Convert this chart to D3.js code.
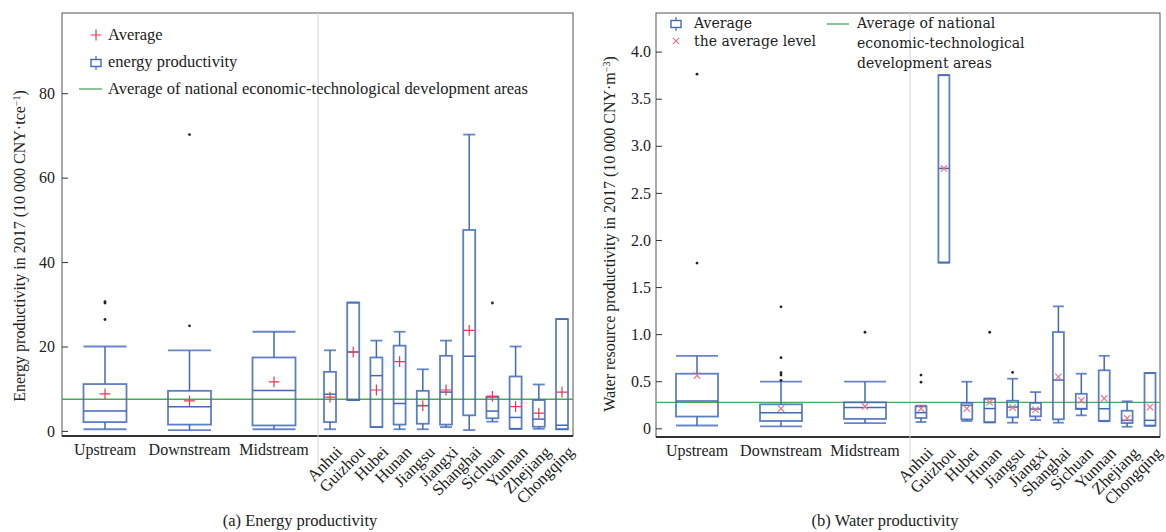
<!DOCTYPE html>
<html>
<head>
<meta charset="utf-8">
<script src="https://cdn.jsdelivr.net/npm/d3@7"></script>
<style>
  body { margin: 0; background: #fff; }
  text { font-family: "Liberation Serif", serif; fill: #222; }
  .legend-b text { font-family: "DejaVu Serif", serif; }
</style>
</head>
<body>
<script>
const groups = ['Upstream', 'Downstream', 'Midstream'];
const provinces = ['Anhui', 'Guizhou', 'Hubei', 'Hunan', 'Jiangsu', 'Jiangxi',
  'Shanghai', 'Sichuan', 'Yunnan', 'Zhejiang', 'Chongqing'];

// [lower whisker, q1, median, q3, upper whisker], groups first then provinces
const energyStats = [
  [0.4, 2.1, 4.7, 11.1, 20.0],
  [0.2, 1.5, 5.75, 9.5, 19.1],
  [0.4, 1.3, 9.6, 17.4, 23.5],
  [0.4, 2.1, 8.7, 14.0, 19.1],
  [7.3, 7.3, 18.7, 30.4, 30.4],
  [0.9, 0.9, 13.1, 17.4, 21.4],
  [0.4, 1.5, 6.5, 20.2, 23.5],
  [0.4, 1.7, 6.0, 9.5, 14.6],
  [0.9, 1.5, 9.2, 17.8, 21.4],
  [0.2, 3.7, 17.7, 47.6, 70.2],
  [2.2, 3.0, 4.7, 8.1, 8.1],
  [0.5, 0.5, 3.2, 12.9, 20.0],
  [0.5, 1.0, 2.8, 7.3, 11.0],
  [0.4, 0.4, 1.35, 26.5, 26.5],
];
const energyMeans = [8.8, 7.1, 11.6, 8.0, 18.7, 9.7, 16.4, 6.0, 9.7, 23.8, 8.2, 5.75, 4.2, 9.2];
const energyOutliers = [
  ['Upstream', 30.3], ['Upstream', 30.6], ['Upstream', 26.4],
  ['Downstream', 70.2], ['Downstream', 24.9],
  ['Sichuan', 30.3],
];
const energyNational = 7.5;
const energyTicks = [0, 20, 40, 60, 80];

const waterStats = [
  [0.03, 0.125, 0.29, 0.58, 0.77],
  [0.02, 0.078, 0.166, 0.255, 0.495],
  [0.056, 0.10, 0.22, 0.276, 0.495],
  [0.067, 0.11, 0.166, 0.233, 0.24],
  [1.76, 1.76, 2.76, 3.75, 3.75],
  [0.078, 0.096, 0.245, 0.27, 0.495],
  [0.064, 0.064, 0.21, 0.315, 0.315],
  [0.06, 0.117, 0.226, 0.293, 0.527],
  [0.088, 0.127, 0.205, 0.27, 0.385],
  [0.06, 0.096, 0.513, 1.022, 1.295],
  [0.138, 0.205, 0.21, 0.367, 0.58],
  [0.075, 0.08, 0.208, 0.616, 0.77],
  [0.017, 0.056, 0.085, 0.187, 0.287],
  [0.028, 0.028, 0.085, 0.587, 0.587],
];
const waterMeans = [0.56, 0.21, 0.233, 0.21, 2.76, 0.21, 0.276, 0.22, 0.198, 0.548, 0.297, 0.318, 0.106, 0.226];
const waterOutliers = [
  ['Upstream', 3.76], ['Upstream', 1.755],
  ['Downstream', 1.29], ['Downstream', 0.75], ['Downstream', 0.59],
  ['Downstream', 0.565], ['Downstream', 0.51],
  ['Midstream', 1.02],
  ['Anhui', 0.566], ['Anhui', 0.49],
  ['Hunan', 1.02],
  ['Jiangsu', 0.594],
];
const waterNational = 0.276;
const waterTicks = [0, 0.5, 1.0, 1.5, 2.0, 2.5, 3.0, 3.5, 4.0];

const BLUE = '#4169b8';
const GREEN = '#4aa85a';
const RED = '#e5394f';
const PINK = '#ee7584';
const SERIF = '"Liberation Serif", serif';

const svg = d3.select('body').append('svg')
  .attr('width', 1166)
  .attr('height', 532);

function boxIcon(g, x, y) {
  g.append('line').attr('x1', x).attr('x2', x).attr('y1', y - 7).attr('y2', y + 7)
    .attr('stroke', BLUE).attr('stroke-width', 1.2);
  g.append('rect').attr('x', x - 5).attr('y', y - 3.5).attr('width', 10).attr('height', 7)
    .attr('fill', '#fff').attr('stroke', BLUE).attr('stroke-width', 1.4);
}

function drawPanel(p) {
  const g = svg.append('g');
  const cats = groups.concat(provinces);

  const y = d3.scaleLinear().domain(p.yDomain).range([p.bottom, p.top]);
  const gx = d3.scalePoint().domain(groups).range(p.groupRange);
  const px = d3.scalePoint().domain(provinces).range(p.provRange);
  const xOf = (c) => (groups.includes(c) ? gx(c) : px(c));
  const wOf = (c) => (groups.includes(c) ? p.groupWidth : p.provWidth);

  // frame
  g.append('rect')
    .attr('x', p.x0).attr('y', p.top)
    .attr('width', p.x1 - p.x0).attr('height', p.bottom - p.top)
    .attr('fill', 'none').attr('stroke', '#555').attr('stroke-width', 1);
  g.append('line')
    .attr('x1', p.x0).attr('x2', p.x1).attr('y1', p.bottom).attr('y2', p.bottom)
    .attr('stroke', '#333').attr('stroke-width', 2);

  // separator between basin groups and provinces
  g.append('line')
    .attr('x1', p.x0 + p.sep).attr('x2', p.x0 + p.sep)
    .attr('y1', p.top).attr('y2', p.bottom + 30)
    .attr('stroke', '#d4d4d4').attr('stroke-width', 1);

  // y axis
  const yAxis = g.append('g')
    .attr('transform', `translate(${p.x0},0)`)
    .call(d3.axisLeft(y).tickValues(p.ticks).tickSizeInner(-6).tickSizeOuter(0)
      .tickPadding(p.tickPad).tickFormat(p.fmt))
    .attr('font-family', SERIF)
    .attr('font-size', 16);
  yAxis.select('.domain').remove();
  yAxis.selectAll('line').attr('stroke', '#333');
  yAxis.selectAll('text').attr('fill', '#333');

  // national average line
  g.append('line')
    .attr('x1', p.x0).attr('x2', p.x1)
    .attr('y1', y(p.national)).attr('y2', y(p.national))
    .attr('stroke', GREEN).attr('stroke-width', 1.3);

  // boxes
  const box = g.append('g').selectAll('g')
    .data(cats.map((c, i) => ({ c, s: p.stats[i], m: p.means[i] })))
    .join('g')
    .attr('transform', (d) => `translate(${xOf(d.c)},0)`);

  box.append('line')
    .attr('y1', (d) => y(d.s[4])).attr('y2', (d) => y(d.s[3]))
    .attr('stroke', BLUE).attr('stroke-width', 1.5);
  box.append('line')
    .attr('y1', (d) => y(d.s[1])).attr('y2', (d) => y(d.s[0]))
    .attr('stroke', BLUE).attr('stroke-width', 1.5);
  box.append('line')
    .attr('x1', (d) => -wOf(d.c) / 2).attr('x2', (d) => wOf(d.c) / 2)
    .attr('y1', (d) => y(d.s[4])).attr('y2', (d) => y(d.s[4]))
    .attr('stroke', BLUE).attr('stroke-width', 1.8).attr('stroke-opacity', 0.8);
  box.append('line')
    .attr('x1', (d) => -wOf(d.c) / 2).attr('x2', (d) => wOf(d.c) / 2)
    .attr('y1', (d) => y(d.s[0])).attr('y2', (d) => y(d.s[0]))
    .attr('stroke', BLUE).attr('stroke-width', 1.8).attr('stroke-opacity', 0.8);
  box.append('rect')
    .attr('x', (d) => -wOf(d.c) / 2).attr('width', (d) => wOf(d.c))
    .attr('y', (d) => y(d.s[3])).attr('height', (d) => y(d.s[1]) - y(d.s[3]))
    .attr('fill', 'none').attr('stroke', BLUE).attr('stroke-width', 1.8)
    .attr('stroke-opacity', 0.85);
  box.append('line')
    .attr('x1', (d) => -wOf(d.c) / 2).attr('x2', (d) => wOf(d.c) / 2)
    .attr('y1', (d) => y(d.s[2])).attr('y2', (d) => y(d.s[2]))
    .attr('stroke', BLUE).attr('stroke-width', 1.5);

  // means
  const sym = p.meanShape === 'plus' ? d3.symbolPlus : d3.symbolTimes;
  box.append('path')
    .attr('transform', (d) => `translate(0,${y(d.m)})`)
    .attr('d', d3.symbol().type(sym).size(p.meanShape === 'plus' ? 40 : 28))
    .attr('fill', 'none')
    .attr('stroke', p.meanColor).attr('stroke-width', 1.2);

  // outliers
  g.append('g').selectAll('circle')
    .data(p.outliers)
    .join('circle')
    .attr('cx', (d) => xOf(d[0]))
    .attr('cy', (d) => y(d[1]))
    .attr('r', 1.4)
    .attr('fill', '#222');

  // x labels
  g.append('g').selectAll('text')
    .data(groups)
    .join('text')
    .attr('x', (d) => gx(d))
    .attr('y', p.bottom + 19)
    .attr('text-anchor', 'middle')
    .attr('font-size', 16)
    .text((d) => d);
  g.append('g').selectAll('text')
    .data(provinces)
    .join('text')
    .attr('transform', (d) => `translate(${px(d) + 13},${p.bottom + 17}) rotate(-45)`)
    .attr('text-anchor', 'end')
    .attr('font-size', 16.5)
    .text((d) => d);

  // y label
  const yl = g.append('text')
    .attr('transform', `translate(${p.ylabelX},${p.ylabelY}) rotate(-90)`)
    .attr('text-anchor', 'middle')
    .attr('font-size', 16);
  yl.append('tspan').text(p.ylabel);
  yl.append('tspan').attr('dy', -5).attr('font-size', 10).text(p.ylabelSup);
  yl.append('tspan').attr('dy', 5).text(')');

  // caption
  g.append('text')
    .attr('x', p.captionX).attr('y', 526)
    .attr('text-anchor', 'middle')
    .attr('font-size', 16.5)
    .text(p.caption);

  return g;
}

drawPanel({
  x0: 62, x1: 573, top: 13, bottom: 436,
  yDomain: [-1.2, 99],
  groupRange: [105, 274], provRange: [330, 562], sep: 256,
  groupWidth: 43, provWidth: 12,
  stats: energyStats, means: energyMeans, outliers: energyOutliers,
  national: energyNational, ticks: energyTicks, fmt: d3.format('d'), tickPad: 7,
  meanShape: 'plus', meanColor: RED,
  ylabel: 'Energy productivity in 2017 (10 000 CNY·tce', ylabelSup: '−1',
  ylabelX: 25, ylabelY: 246,
  caption: '(a) Energy productivity', captionX: 300,
});

drawPanel({
  x0: 656, x1: 1160, top: 13, bottom: 437,
  yDomain: [-0.092, 4.41],
  groupRange: [697, 865], provRange: [921, 1150], sep: 254,
  groupWidth: 42, provWidth: 11,
  stats: waterStats, means: waterMeans, outliers: waterOutliers,
  national: waterNational, ticks: waterTicks,
  fmt: (d) => (d === 0 ? '0' : d3.format('.1f')(d)), tickPad: 5,
  meanShape: 'times', meanColor: PINK,
  ylabel: 'Water resource productivity in 2017 (10 000 CNY·m', ylabelSup: '−3',
  ylabelX: 615, ylabelY: 234,
  caption: '(b) Water productivity', captionX: 885,
});

// legend, panel a
const la = svg.append('g').attr('font-size', 16.5);
la.append('path')
  .attr('transform', 'translate(96,35)')
  .attr('d', d3.symbol().type(d3.symbolPlus).size(40))
  .attr('fill', 'none').attr('stroke', RED).attr('stroke-width', 1.2);
la.append('text').attr('x', 108).attr('y', 40).text('Average');
boxIcon(la, 96, 63);
la.append('text').attr('x', 108).attr('y', 67).text('energy productivity');
la.append('line').attr('x1', 79).attr('x2', 102).attr('y1', 89).attr('y2', 89)
  .attr('stroke', GREEN).attr('stroke-width', 1.3);
la.append('text').attr('x', 108).attr('y', 94)
  .text('Average of national economic-technological development areas');

// legend, panel b
const lb = svg.append('g').attr('class', 'legend-b').attr('font-size', 14);
boxIcon(lb, 676, 24);
lb.append('text').attr('x', 694).attr('y', 28).text('Average');
lb.append('path')
  .attr('transform', 'translate(676,41)')
  .attr('d', d3.symbol().type(d3.symbolTimes).size(28))
  .attr('fill', 'none').attr('stroke', PINK).attr('stroke-width', 1.2);
lb.append('text').attr('x', 694).attr('y', 46).text('the average level');
lb.append('line').attr('x1', 827).attr('x2', 849).attr('y1', 24).attr('y2', 24)
  .attr('stroke', GREEN).attr('stroke-width', 1.3);
['Average of national', 'economic-technological', 'development areas'].forEach((t, i) => {
  lb.append('text').attr('x', 857).attr('y', 28 + i * 20).text(t);
});
</script>
</body>
</html>
